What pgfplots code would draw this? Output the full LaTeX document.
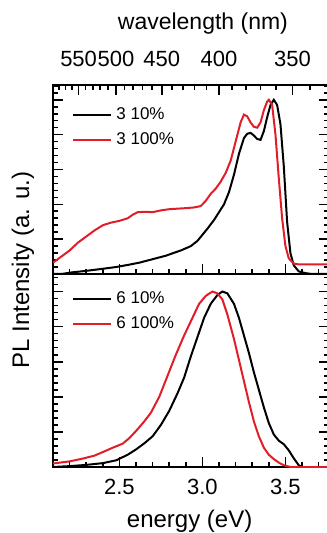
\documentclass[border=0pt]{standalone}
\usepackage{pgfplots}
\pgfplotsset{compat=1.18}
\usepackage{fontspec}
\setmainfont{Liberation Sans}
\definecolor{pred}{RGB}{225,30,40}

\pgfplotsset{
 panel/.style={
  scale only axis, width=137.8pt, xmin=2.1, xmax=3.76, ymin=0,
  axis line style={line width=0.8pt},
  every tick/.style={black, line width=0.8pt},
  major tick length=5pt, minor tick length=2.5pt,
  tick align=inside,
  xtick={2.5,3.0,3.5},
  minor xtick={2.2,2.3,2.4,2.6,2.7,2.8,2.9,3.1,3.2,3.3,3.4,3.6,3.7},
  ytick={0,0.2,0.4,0.6,0.8,1.0},
  minor ytick={0.04,0.08,0.12,0.16,0.24,0.28,0.32,0.36,0.44,0.48,0.52,0.56,0.64,0.68,0.72,0.76,0.84,0.88,0.92,0.96,1.04,1.08},
  yticklabels={}, ytick pos=both,
  /pgf/number format/assume math mode=true,
  ticklabel style={font=\fontsize{11}{13}\selectfont},
  xticklabel style={/pgf/number format/fixed, /pgf/number format/fixed zerofill, /pgf/number format/precision=1, yshift=-2.6pt},
  legend style={draw=none, fill=none, font=\fontsize{8.5}{10}\selectfont, inner sep=0pt, row sep=1pt, cells={anchor=west}},
  legend image code/.code={\draw[#1] (0pt,0pt) -- (19pt,0pt);},
  every axis plot/.append style={line width=1pt},
 }
}

\begin{document}
\begin{tikzpicture}
\path[use as bounding box] (-26.5pt,-33pt) rectangle (136.5pt,233.5pt);

% bottom panel
\begin{axis}[panel, at={(0pt,0pt)}, anchor=south west, height=96.5pt, ymax=1.1,
  xtick pos=left,
  legend style={at={(axis description cs:0.069,0.93)}, anchor=north west}]
\addplot[black] coordinates {(2.10,0.0)(2.20,0.005)(2.30,0.012)(2.40,0.022)(2.48,0.038)(2.55,0.07)(2.60,0.10)(2.65,0.135)(2.70,0.175)(2.75,0.24)(2.80,0.32)(2.85,0.42)(2.89,0.51)(2.93,0.63)(2.97,0.74)(3.01,0.85)(3.05,0.93)(3.09,0.98)(3.12,1.0)(3.15,0.99)(3.19,0.93)(3.22,0.85)(3.25,0.75)(3.28,0.65)(3.31,0.54)(3.34,0.44)(3.37,0.34)(3.40,0.25)(3.43,0.185)(3.46,0.15)(3.49,0.13)(3.52,0.095)(3.55,0.05)(3.58,0.01)(3.60,0.0)(3.76,0.0)};
\addlegendentry{6 10\%}
\addplot[pred] coordinates {(2.10,0.02)(2.20,0.032)(2.28,0.048)(2.35,0.065)(2.40,0.085)(2.46,0.11)(2.52,0.133)(2.56,0.165)(2.60,0.205)(2.65,0.26)(2.69,0.31)(2.74,0.40)(2.79,0.52)(2.84,0.64)(2.89,0.75)(2.94,0.85)(2.98,0.93)(3.02,0.975)(3.06,1.0)(3.09,0.99)(3.12,0.955)(3.15,0.87)(3.19,0.73)(3.22,0.61)(3.25,0.49)(3.28,0.37)(3.31,0.26)(3.34,0.175)(3.37,0.11)(3.40,0.07)(3.43,0.045)(3.46,0.025)(3.49,0.01)(3.53,0.0)(3.76,0.0)};
\addlegendentry{6 100\%}
\end{axis}

% top panel
\begin{axis}[panel, at={(0pt,96.5pt)}, anchor=south west, height=94.5pt, ymax=1.085,
  xtick pos=left, xticklabels={},
  legend style={at={(axis description cs:0.069,0.905)}, anchor=north west}]
\addplot[black] coordinates {(2.10,0.0)(2.15,0.0)(2.22,0.01)(2.30,0.018)(2.40,0.03)(2.48,0.04)(2.55,0.052)(2.62,0.065)(2.70,0.085)(2.78,0.105)(2.83,0.122)(2.87,0.135)(2.93,0.16)(2.97,0.19)(3.00,0.225)(3.03,0.26)(3.07,0.31)(3.10,0.355)(3.13,0.40)(3.16,0.47)(3.19,0.57)(3.22,0.69)(3.25,0.78)(3.27,0.805)(3.29,0.81)(3.31,0.795)(3.33,0.775)(3.35,0.77)(3.37,0.82)(3.39,0.90)(3.41,0.97)(3.43,1.0)(3.45,0.97)(3.47,0.86)(3.49,0.62)(3.51,0.30)(3.53,0.12)(3.55,0.05)(3.58,0.015)(3.62,0.005)(3.66,0.0)(3.76,0.0)};
\addlegendentry{3 10\%}
\addplot[pred] coordinates {(2.10,0.065)(2.15,0.10)(2.20,0.135)(2.25,0.18)(2.30,0.215)(2.35,0.25)(2.40,0.28)(2.45,0.295)(2.50,0.305)(2.55,0.32)(2.58,0.34)(2.61,0.355)(2.66,0.357)(2.70,0.355)(2.75,0.365)(2.80,0.372)(2.85,0.375)(2.90,0.378)(2.95,0.382)(2.99,0.39)(3.02,0.42)(3.05,0.46)(3.08,0.49)(3.11,0.53)(3.14,0.58)(3.17,0.65)(3.20,0.76)(3.23,0.87)(3.25,0.915)(3.27,0.905)(3.29,0.87)(3.31,0.845)(3.33,0.84)(3.35,0.87)(3.37,0.94)(3.39,0.99)(3.40,1.0)(3.42,0.97)(3.44,0.80)(3.46,0.55)(3.48,0.32)(3.50,0.16)(3.52,0.09)(3.55,0.06)(3.58,0.055)(3.76,0.055)};
\addlegendentry{3 100\%}
\end{axis}

% wavelength axis
\begin{axis}[scale only axis, width=137.8pt, height=94.5pt, at={(0pt,96.5pt)}, anchor=south west,
  xmin=2.1, xmax=3.76, ymin=0, ymax=1,
  axis x line*=top, hide y axis,
  axis line style={line width=0.8pt},
  every tick/.style={black, line width=0.8pt},
  major tick length=5pt, minor tick length=2.5pt,
  tick align=inside,
  xtick={2.2543,2.4797,2.7552,3.0996,3.5424},
  xticklabels={550,500,450,400,350},
  minor xtick={2.1014,2.1377,2.1752,2.2140,2.2960,2.3393,2.3843,2.4311,2.5303,2.5830,2.6380,2.6953,2.8178,2.8834,2.9520,3.0240,3.1791,3.2627,3.3509,3.4440,3.6466},
  ticklabel style={font=\fontsize{11}{13}\selectfont},
  xticklabel style={yshift=5.5pt},
  xlabel={wavelength (nm)},
  xlabel style={font=\fontsize{11.5}{13}\selectfont, at={(axis description cs:0.544,1.294)}, anchor=base},
]
\end{axis}

\node[font=\fontsize{12}{14}\selectfont, anchor=base] at (68.3pt,-30.2pt) {energy (eV)};
\node[font=\fontsize{12}{14}\selectfont, rotate=90] at (-15pt,98.5pt) {PL Intensity (a. u.)};
\end{tikzpicture}
\end{document}
